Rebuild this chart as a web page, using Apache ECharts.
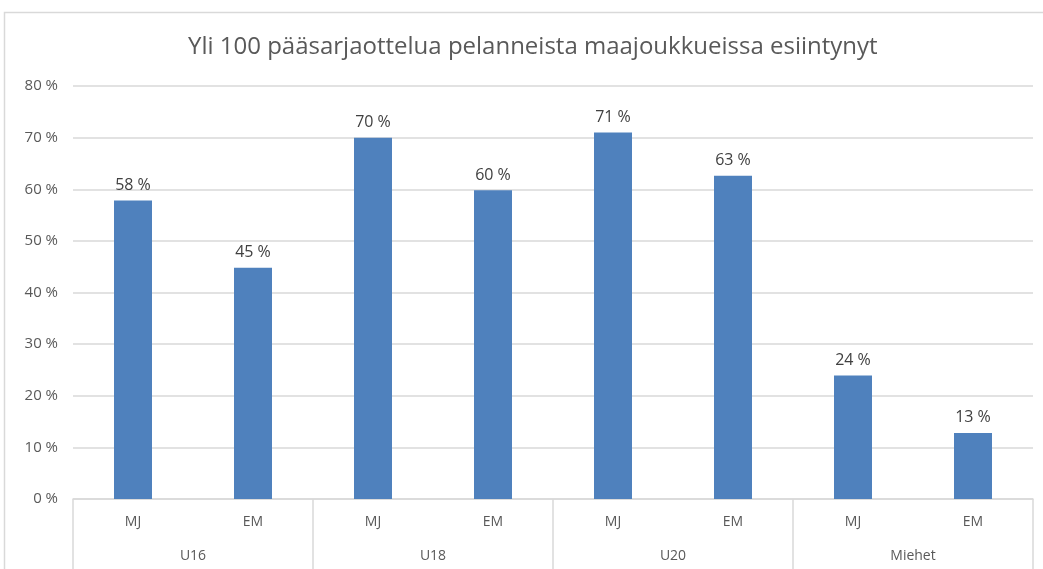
<!DOCTYPE html>
<html>
<head>
<meta charset="utf-8">
<script src="https://cdn.jsdelivr.net/npm/echarts@6/dist/echarts.min.js"></script>
<style>
html,body{margin:0;padding:0;background:#fff;}
#chart{width:1043px;height:569px;}
</style>
</head>
<body>
<div id="chart"></div>
<script>
const title = 'Yli 100 pääsarjaottelua pelanneista maajoukkueissa esiintynyt';
const subCategories = ['MJ', 'EM', 'MJ', 'EM', 'MJ', 'EM', 'MJ', 'EM'];
const groups = ['U16', 'U18', 'U20', 'Miehet'];
const values = [57.8, 44.8, 70.0, 59.8, 71.0, 62.6, 23.9, 12.8];
const yTicks = [0, 10, 20, 30, 40, 50, 60, 70, 80];

const FONT = 'Open Sans';
const chart = echarts.init(document.getElementById('chart'));
chart.setOption({
  backgroundColor: '#ffffff',
  animation: false,
  title: {
    text: title,
    left: 183,
    top: 30,
    textStyle: { fontFamily: FONT, fontSize: 24, fontWeight: 'normal', color: '#595959' }
  },
  graphic: [{
    type: 'rect',
    shape: { x: 4.5, y: 12.5, width: 1200, height: 700 },
    style: { fill: 'none', stroke: '#d9d9d9', lineWidth: 1.5 },
    silent: true, z: -1
  }],
  grid: { left: 73, right: 10, top: 86, bottom: 70, containLabel: false },
  xAxis: [{
    type: 'category',
    data: subCategories,
    position: 'bottom',
    axisLine: { show: true, lineStyle: { color: '#d9d9d9', width: 1.5 } },
    axisTick: { show: false },
    axisLabel: { margin: 16, fontFamily: FONT, fontSize: 14, color: '#595959', interval: 0 }
  }, {
    type: 'category',
    data: groups,
    position: 'bottom',
    axisLine: { show: false },
    axisTick: { show: true, length: 75, lineStyle: { color: '#d9d9d9', width: 1.5 } },
    axisLabel: { margin: 50, fontFamily: FONT, fontSize: 14, color: '#595959', interval: 0 },
    splitLine: { show: false }
  }],
  yAxis: {
    type: 'value',
    min: yTicks[0],
    max: yTicks[yTicks.length - 1],
    interval: 10,
    axisLine: { show: false },
    axisTick: { show: false },
    splitLine: { lineStyle: { color: '#d9d9d9', width: 1.5 } },
    axisLabel: {
      margin: 15,
      fontFamily: FONT, fontSize: 15, color: '#595959',
      formatter: v => v + ' %'
    }
  },
  series: [{
    type: 'bar',
    xAxisIndex: 0,
    data: values,
    barWidth: 38,
    itemStyle: { color: '#4F81BD' },
    label: {
      show: true,
      position: 'top',
      distance: 7,
      fontFamily: FONT, fontSize: 16, color: '#404040',
      formatter: p => Math.round(p.value) + ' %'
    }
  }]
});
</script>
</body>
</html>
